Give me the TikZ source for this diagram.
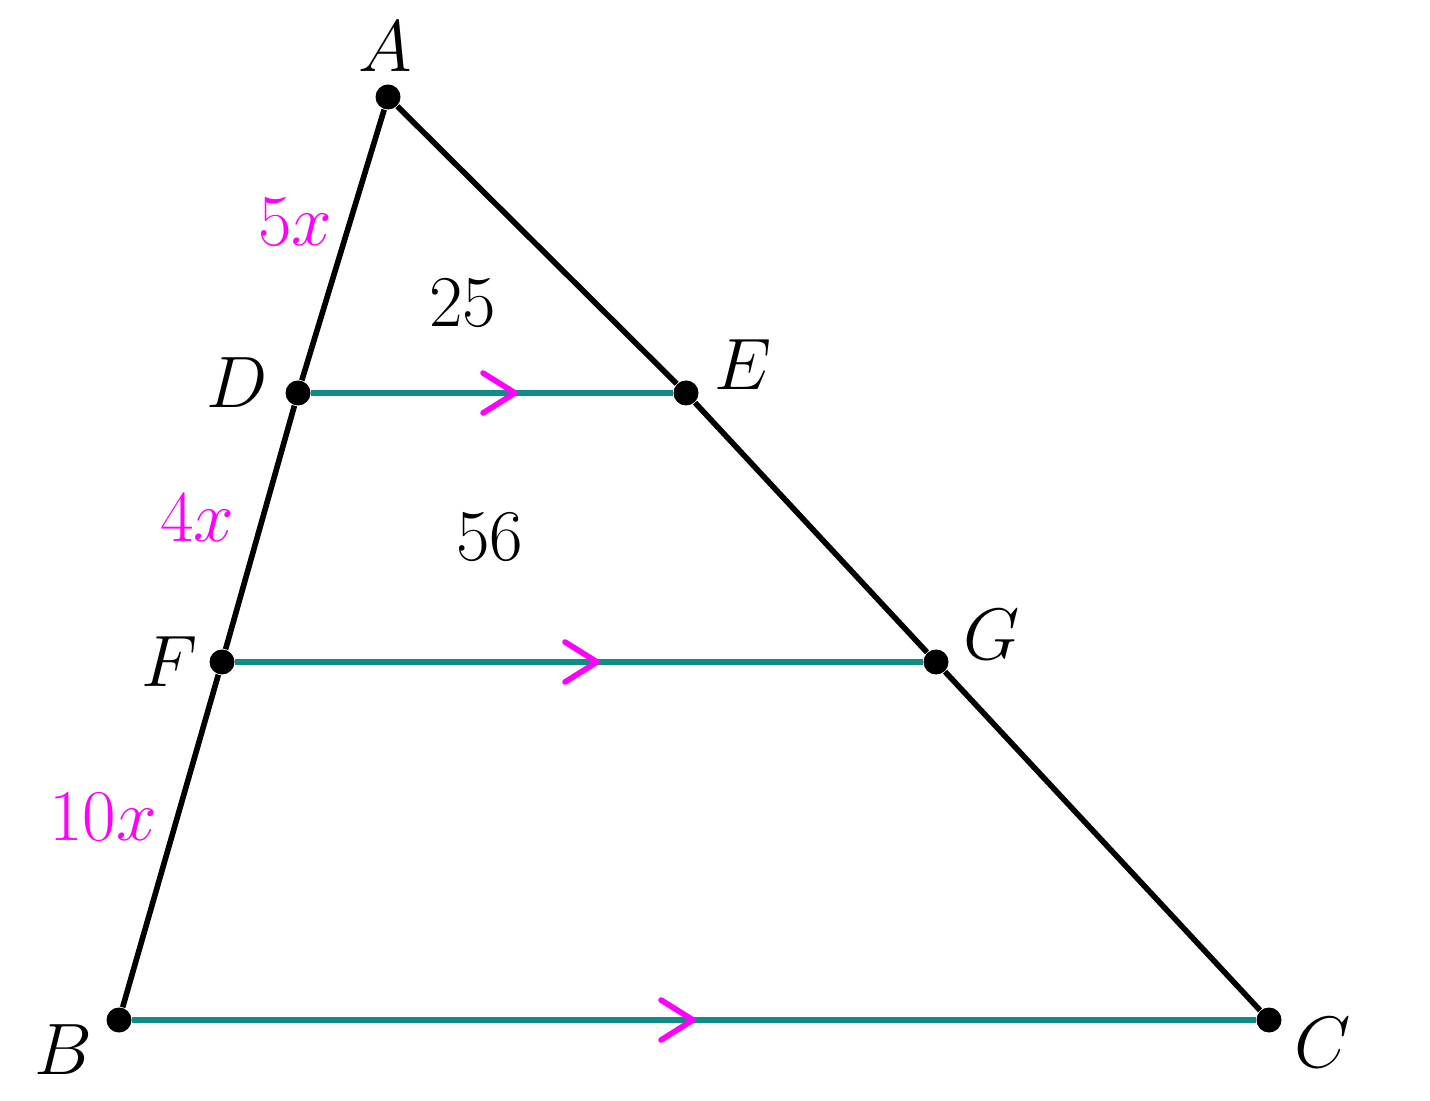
\documentclass[tikz,border=0pt]{standalone}
\usepackage{amsmath}
\usepackage{tikz}
\definecolor{parcol}{RGB}{15,140,135}
\definecolor{markcol}{RGB}{255,0,255}

\begin{document}
\begin{tikzpicture}[font=\fontsize{21}{25}\selectfont,
  dot/.style={circle,fill=black,inner sep=0pt,minimum size=0.25cm},
  side/.style={line width=1.6pt},
  parline/.style={parcol,line width=1.7pt},
  chev/.style={markcol,line width=1.6pt,line cap=round,line join=round}]
\useasboundingbox (0,0) rectangle (14.3,11);
% points
\node[dot] (A) at (3.88,10.03) {};
\node[dot] (B) at (1.19,0.80) {};
\node[dot] (C) at (12.69,0.80) {};
\node[dot] (D) at (2.98,7.07) {};
\node[dot] (E) at (6.86,7.07) {};
\node[dot] (F) at (2.22,4.38) {};
\node[dot] (G) at (9.36,4.38) {};
% parallel lines
\draw[parline] (D) -- (E);
\draw[parline] (F) -- (G);
\draw[parline] (B) -- (C);
% sides
\draw[side] (B) -- (F) -- (D) -- (A) -- (E) -- (G) -- (C);
% arrow marks
\coordinate (m1) at (5.15,7.07);
\coordinate (m2) at (5.97,4.38);
\coordinate (m3) at (6.93,0.80);
\foreach \m in {m1,m2,m3}
\draw[chev] ([shift={(-0.32,0.2)}]\m) -- (\m) -- ([shift={(-0.32,-0.2)}]\m);
% labels
\node (lA) at (3.85,10.53) {$A$};
\node (lB) at (0.63,0.50) {$B$};
\node (lC) at (13.23,0.57) {$C$};
\node (lD) at (2.37,7.17) {$D$};
\node (lE) at (7.43,7.35) {$E$};
\node (lF) at (1.70,4.38) {$F$};
\node (lG) at (9.92,4.65) {$G$};
\node[markcol] (l5x) at (2.95,8.78) {$5x$};
\node[markcol] (l4x) at (1.97,5.82) {$4x$};
\node[markcol] (l10x) at (1.03,2.83) {$10x$};
\node (a1) at (4.63,7.97) {$25$};
\node (a2) at (4.90,5.63) {$56$};
\end{tikzpicture}
\end{document}
